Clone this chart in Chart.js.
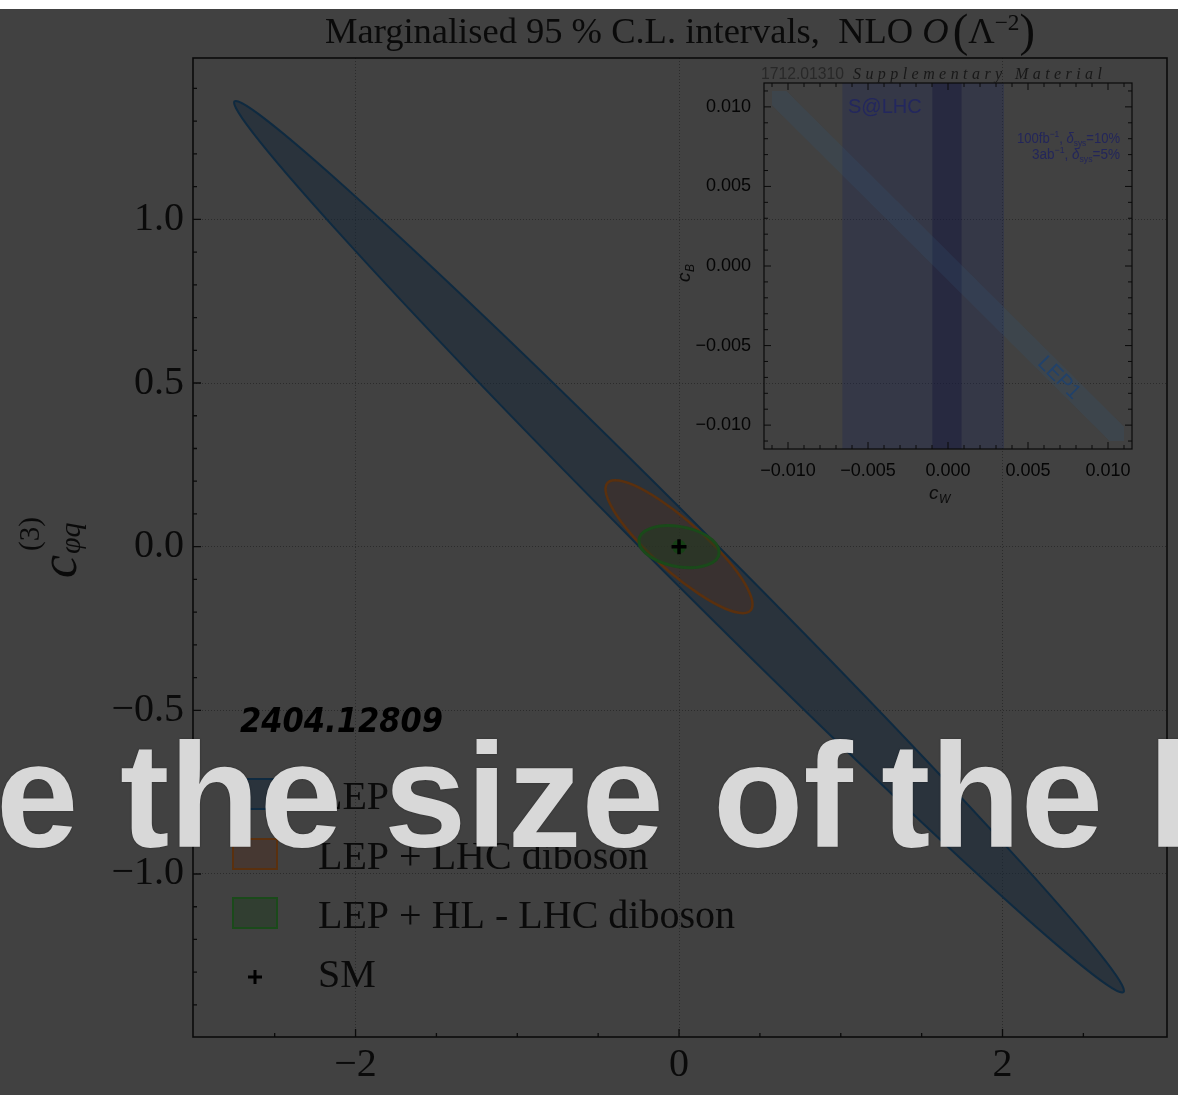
<!DOCTYPE html>
<html>
<head>
<meta charset="utf-8">
<script src="https://cdn.jsdelivr.net/npm/chart.js@4.4.1/dist/chart.umd.min.js"></script>
<style>
  html, body { margin: 0; padding: 0; background: #414141; }
  body { width: 1178px; height: 1095px; position: relative; overflow: hidden; }
  #topstrip { position: absolute; left: 0; top: 0; width: 1178px; height: 9px; background: #ffffff; }
  canvas { position: absolute; left: 0; top: 0; }
  #caption { position: absolute; left: 0; top: 721px; width: 1178px; height: 170px; }
  #caption span {
    position: absolute; top: 0;
    font: bold 148px "Liberation Sans", Arial, sans-serif;
    line-height: 150px; color: #d8d8d8; white-space: nowrap;
    text-shadow: 0 0 2px rgba(0,0,0,0.35);
  }
</style>
</head>
<body>
<div id="topstrip"></div>
<canvas id="main" width="1178" height="1095"></canvas>
<canvas id="inset" width="1178" height="1095"></canvas>
<div id="caption">
  <span style="left:-4px">e</span>
  <span style="left:120px">the</span>
  <span style="left:384px">size</span>
  <span style="left:713px">of</span>
  <span style="left:881px">the</span>
  <span style="left:1148px">l</span>
</div>

<script>
// ---------- main panel: 95% C.L. regions ----------
const regionLabels = ['LEP', 'LEP + LHC diboson', 'LEP + HL - LHC diboson'];
const regionCentreX = [0, 0, 0];
const regionCentreY = [0, 0, 0];
// conjugate semi-axes of each ellipse, in data units
const regionAxisA = [[2.74, -1.362], [0.395, -0.203], [0.248, -0.017]];
const regionAxisB = [[0.245, 0], [0.225, 0], [0, 0.062]];
const regionFill = ['rgba(19,37,55,0.5)', 'rgba(78,46,30,0.42)', 'rgba(30,60,30,0.45)'];
const regionEdge = ['#0f2a40', '#5a300e', '#1a4a1a'];
const regionEdgeWidth = [2, 2.5, 3];
const smPoint = [{ x: 0, y: 0 }];

const xTickValues = [-2, 0, 2];
const xTickText = ['−2', '0', '2'];
const xMinorTicks = [-2.5, -1.5, -1, -0.5, 0.5, 1, 1.5, 2.5];
const yTickValues = [-1, -0.5, 0, 0.5, 1];
const yTickText = ['−1.0', '−0.5', '0.0', '0.5', '1.0'];
const yMinorTicks = [-1.4, -1.3, -1.2, -1.1, -0.9, -0.8, -0.7, -0.6, -0.4, -0.3, -0.2, -0.1,
                     0.1, 0.2, 0.3, 0.4, 0.6, 0.7, 0.8, 0.9, 1.1, 1.2, 1.3, 1.4];

// ---------- inset: c_W vs c_B ----------
const insetTickValues = [-0.01, -0.005, 0, 0.005, 0.01];
const insetTickText = ['−0.010', '−0.005', '0.000', '0.005', '0.010'];
const insetMinorTicks = [-0.011, -0.009, -0.008, -0.007, -0.006, -0.004, -0.003, -0.002, -0.001,
                         0.001, 0.002, 0.003, 0.004, 0.006, 0.007, 0.008, 0.009, 0.011];
const insetLimit = 0.0115;
const sLHCWide = [-0.0066, 0.0035];     // 100 fb^-1, 10% syst.
const sLHCNarrow = [-0.00098, 0.00085]; // 3 ab^-1, 5% syst.
const lep1HalfWidth = 0.0009;           // |c_W + c_B| band
const lep1Extent = 0.011;

const SERIF = '"Liberation Serif", "DejaVu Serif", serif';
const SANS = '"Liberation Sans", Arial, sans-serif';

function drawRuns(ctx, runs, x0, baseline, targetWidth, align) {
  let total = 0;
  runs.forEach(r => { ctx.font = r.font; r.w = ctx.measureText(r.text).width; total += r.w + (r.gap || 0); });
  const k = targetWidth ? targetWidth / total : 1;
  let start = x0;
  if (align === 'right') start = x0 - total * k;
  ctx.save();
  ctx.translate(start, baseline);
  ctx.scale(k, 1);
  ctx.textAlign = 'left';
  ctx.textBaseline = 'alphabetic';
  let x = 0;
  runs.forEach(r => { ctx.font = r.font; ctx.fillText(r.text, x, r.dy || 0); x += r.w + (r.gap || 0); });
  ctx.restore();
}

// letter-spaced text spread over a given width
function drawSpaced(ctx, text, x0, baseline, width) {
  const chars = Array.from(text);
  const widths = chars.map(c => ctx.measureText(c).width);
  const natural = widths.reduce((s, w) => s + w, 0);
  const gap = (width - natural) / (chars.length - 1);
  let x = x0;
  chars.forEach((c, i) => { ctx.fillText(c, x, baseline); x += widths[i] + gap; });
}

function ellipsePath(ctx, xs, ys, cx, cy, a, b) {
  const px = xs.getPixelForValue(cx), py = ys.getPixelForValue(cy);
  const ax = xs.getPixelForValue(cx + a[0]) - px, ay = ys.getPixelForValue(cy + a[1]) - py;
  const bx = xs.getPixelForValue(cx + b[0]) - px, by = ys.getPixelForValue(cy + b[1]) - py;
  ctx.save();
  ctx.transform(ax, ay, bx, by, px, py);
  ctx.beginPath();
  ctx.arc(0, 0, 1, 0, Math.PI * 2);
  ctx.closePath();
  ctx.restore();
}

function drawPlus(ctx, x, y, half, width) {
  ctx.save();
  ctx.strokeStyle = '#000';
  ctx.lineWidth = width;
  ctx.beginPath();
  ctx.moveTo(x - half, y); ctx.lineTo(x + half, y);
  ctx.moveTo(x, y - half); ctx.lineTo(x, y + half);
  ctx.stroke();
  ctx.restore();
}

const mainDecor = {
  id: 'mainDecor',
  beforeDatasetsDraw(chart) {
    const ctx = chart.ctx, xs = chart.scales.x, ys = chart.scales.y, area = chart.chartArea;
    ctx.save();
    ctx.beginPath();
    ctx.rect(area.left, area.top, area.right - area.left, area.bottom - area.top);
    ctx.clip();
    for (let i = 0; i < regionLabels.length; i++) {
      ellipsePath(ctx, xs, ys, regionCentreX[i], regionCentreY[i], regionAxisA[i], regionAxisB[i]);
      ctx.fillStyle = regionFill[i];
      ctx.fill();
      ctx.strokeStyle = regionEdge[i];
      ctx.lineWidth = regionEdgeWidth[i];
      ctx.stroke();
    }
    ctx.restore();
  },
  afterDraw(chart) {
    const ctx = chart.ctx, xs = chart.scales.x, ys = chart.scales.y, area = chart.chartArea;
    ctx.save();
    // inward ticks
    ctx.strokeStyle = '#0a0a0a';
    ctx.lineWidth = 1.3;
    ctx.beginPath();
    xTickValues.forEach(v => { const p = xs.getPixelForValue(v); ctx.moveTo(p, area.bottom); ctx.lineTo(p, area.bottom - 8); });
    xMinorTicks.forEach(v => { const p = xs.getPixelForValue(v); ctx.moveTo(p, area.bottom); ctx.lineTo(p, area.bottom - 4); });
    yTickValues.forEach(v => { const p = ys.getPixelForValue(v); ctx.moveTo(area.left, p); ctx.lineTo(area.left + 8, p); });
    yMinorTicks.forEach(v => { const p = ys.getPixelForValue(v); ctx.moveTo(area.left, p); ctx.lineTo(area.left + 4, p); });
    ctx.stroke();
    // frame
    ctx.lineWidth = 1.6;
    ctx.strokeRect(area.left, area.top, area.right - area.left, area.bottom - area.top);

    ctx.fillStyle = '#0a0a0a';
    // title
    drawRuns(ctx, [
      { text: 'Marginalised 95 % C.L. intervals,  NLO ', font: '36px ' + SERIF },
      { text: 'O', font: 'italic 36px ' + SERIF, gap: 4 },
      { text: '(', font: '46px ' + SERIF, dy: 3 },
      { text: 'Λ', font: '36px ' + SERIF },
      { text: '−2', font: '23px ' + SERIF, dy: -13 },
      { text: ')', font: '46px ' + SERIF, dy: 3 }
    ], 325, 43, 710);

    // y-axis title
    ctx.save();
    ctx.translate(76, 578);
    ctx.rotate(-Math.PI / 2);
    ctx.font = 'italic 52px ' + SERIF;
    ctx.fillText('c', 0, 0);
    ctx.font = 'italic 30px ' + SERIF;
    ctx.fillText('φq', 24, 4);
    ctx.font = '29px ' + SERIF;
    ctx.fillText('(3)', 27, -37);
    ctx.restore();

    // paper reference
    ctx.fillStyle = '#000';
    drawRuns(ctx, [{ text: '2404.12809', font: 'bold italic 34px "DejaVu Sans", ' + SANS }], 240, 732, 203);

    // legend
    const baselines = [809, 869, 928];
    for (let i = 0; i < regionLabels.length; i++) {
      const b = baselines[i];
      ctx.fillStyle = regionFill[i];
      ctx.fillRect(233, b - 30, 44, 30);
      ctx.strokeStyle = regionEdge[i];
      ctx.lineWidth = 2;
      ctx.strokeRect(233, b - 30, 44, 30);
      ctx.fillStyle = '#0a0a0a';
      ctx.font = '40px ' + SERIF;
      ctx.textAlign = 'left';
      ctx.textBaseline = 'alphabetic';
      ctx.fillText(regionLabels[i], 318, b);
    }
    drawPlus(ctx, 255, 977, 7, 3);
    ctx.font = '40px ' + SERIF;
    ctx.fillText('SM', 318, 987);
    ctx.restore();
  }
};

new Chart(document.getElementById('main'), {
  type: 'line',
  data: {
    datasets: [
      { label: 'SM', data: smPoint, showLine: false, pointStyle: 'cross', pointRadius: 7.5,
        pointBorderColor: '#000', pointBorderWidth: 3.5, order: 0 },
      { label: 'SM marker', data: smPoint, showLine: false, pointStyle: 'circle', pointRadius: 7,
        pointBackgroundColor: 'rgba(20,68,20,0.85)', pointBorderWidth: 0, order: 1 }
    ]
  },
  options: {
    responsive: false, animation: false, events: [],
    layout: { padding: { left: 0, top: 58, right: 8, bottom: 0 } },
    plugins: { legend: { display: false }, tooltip: { enabled: false }, title: { display: false } },
    scales: {
      x: {
        type: 'linear', min: -3.005, max: 3.017,
        afterBuildTicks: s => { s.ticks = xTickValues.map(v => ({ value: v })); },
        afterFit: s => { s.height = 58; },
        ticks: { callback: (v, i) => xTickText[i], font: { family: 'Liberation Serif', size: 40 },
                 color: '#0a0a0a', padding: 4, maxRotation: 0, autoSkip: false },
        grid: { color: 'rgba(28,28,28,0.6)', lineWidth: 1, drawTicks: false },
        border: { display: false, dash: [1, 2] }
      },
      y: {
        type: 'linear', min: -1.498, max: 1.493,
        afterBuildTicks: s => { s.ticks = yTickValues.map(v => ({ value: v })); },
        afterFit: s => { s.width = 193; },
        ticks: { callback: (v, i) => yTickText[i], font: { family: 'Liberation Serif', size: 40 },
                 color: '#0a0a0a', padding: 9, autoSkip: false },
        grid: { color: 'rgba(28,28,28,0.6)', lineWidth: 1, drawTicks: false },
        border: { display: false, dash: [1, 2] }
      }
    }
  },
  plugins: [mainDecor]
});

// ---------- inset ----------
const L = insetLimit;
const wideBand = [
  { x: sLHCWide[0], y: -L }, { x: sLHCWide[1], y: -L }, { x: sLHCWide[1], y: L }, { x: sLHCWide[0], y: L }
];
const narrowBand = [
  { x: sLHCNarrow[0], y: -L }, { x: sLHCNarrow[1], y: -L }, { x: sLHCNarrow[1], y: L }, { x: sLHCNarrow[0], y: L }
];
const e = lep1Extent, h = lep1HalfWidth;
const lep1Band = [
  { x: -e, y: e }, { x: -e + h, y: e }, { x: e, y: -e + h },
  { x: e, y: -e }, { x: e - h, y: -e }, { x: -e, y: e - h }
];

const insetDecor = {
  id: 'insetDecor',
  afterDraw(chart) {
    const ctx = chart.ctx, xs = chart.scales.x, ys = chart.scales.y, a = chart.chartArea;
    ctx.save();
    ctx.strokeStyle = '#0a0a0a';
    ctx.lineWidth = 1;
    ctx.beginPath();
    const tick = (v, len) => {
      const px = xs.getPixelForValue(v), py = ys.getPixelForValue(v);
      ctx.moveTo(px, a.bottom); ctx.lineTo(px, a.bottom - len);
      ctx.moveTo(px, a.top); ctx.lineTo(px, a.top + len);
      ctx.moveTo(a.left, py); ctx.lineTo(a.left + len, py);
      ctx.moveTo(a.right, py); ctx.lineTo(a.right - len, py);
    };
    insetTickValues.forEach(v => tick(v, 7));
    insetMinorTicks.forEach(v => tick(v, 4));
    ctx.stroke();
    ctx.lineWidth = 1.2;
    ctx.strokeRect(a.left, a.top, a.right - a.left, a.bottom - a.top);

    // header line
    ctx.textAlign = 'left';
    ctx.textBaseline = 'alphabetic';
    ctx.fillStyle = '#282828';
    drawRuns(ctx, [{ text: '1712.01310', font: '17px ' + SANS }], 761, 79, 83);
    ctx.fillStyle = '#181818';
    ctx.font = 'italic 16px ' + SERIF;
    drawSpaced(ctx, 'Supplementary Material', 853, 79, 249);

    // band annotations
    ctx.fillStyle = '#23275e';
    ctx.font = '20px ' + SANS;
    ctx.fillText('S@LHC', 848, 113);
    ctx.fillStyle = '#23265a';
    drawRuns(ctx, [
      { text: '100fb', font: '14px ' + SANS },
      { text: '−1', font: '9px ' + SANS, dy: -6 },
      { text: ', ', font: '14px ' + SANS },
      { text: 'δ', font: 'italic 14px ' + SANS },
      { text: 'sys', font: '9px ' + SANS, dy: 3 },
      { text: '=10%', font: '14px ' + SANS }
    ], 1120, 143, 103, 'right');
    drawRuns(ctx, [
      { text: '3ab', font: '14px ' + SANS },
      { text: '−1', font: '9px ' + SANS, dy: -6 },
      { text: ', ', font: '14px ' + SANS },
      { text: 'δ', font: 'italic 14px ' + SANS },
      { text: 'sys', font: '9px ' + SANS, dy: 3 },
      { text: '=5%', font: '14px ' + SANS }
    ], 1120, 159, 88, 'right');

    ctx.save();
    ctx.translate(1059, 378);
    ctx.rotate(Math.PI / 4);
    ctx.fillStyle = '#22426a';
    ctx.font = '21px ' + SANS;
    ctx.textAlign = 'center';
    ctx.textBaseline = 'middle';
    ctx.fillText('LEP1', 0, 0);
    ctx.restore();

    // axis titles
    ctx.fillStyle = '#0a0a0a';
    ctx.font = 'italic 19px ' + SANS;
    ctx.fillText('c', 929, 499);
    ctx.font = 'italic 12px ' + SANS;
    ctx.fillText('W', 939, 503);
    ctx.save();
    ctx.translate(690, 282);
    ctx.rotate(-Math.PI / 2);
    ctx.font = 'italic 19px ' + SANS;
    ctx.fillText('c', 0, 0);
    ctx.font = 'italic 12px ' + SANS;
    ctx.fillText('B', 10, 4);
    ctx.restore();
    ctx.restore();
  }
};

const bandStyle = { showLine: true, fill: 'shape', borderWidth: 0, borderColor: 'rgba(0,0,0,0)',
                    pointRadius: 0, tension: 0 };
new Chart(document.getElementById('inset'), {
  type: 'line',
  data: {
    datasets: [
      Object.assign({ label: 'LEP1', data: lep1Band, backgroundColor: 'rgba(50,85,120,0.22)', order: 1 }, bandStyle),
      Object.assign({ label: 'S@LHC 3ab-1', data: narrowBand, backgroundColor: 'rgba(20,20,55,0.4)', order: 2 }, bandStyle),
      Object.assign({ label: 'S@LHC 100fb-1', data: wideBand, backgroundColor: 'rgba(25,35,85,0.3)', order: 3 }, bandStyle)
    ]
  },
  options: {
    responsive: false, animation: false, events: [],
    layout: { padding: { left: 684, top: 83, right: 46, bottom: 606 } },
    plugins: { legend: { display: false }, tooltip: { enabled: false } },
    scales: {
      x: {
        type: 'linear', min: -L, max: L,
        afterBuildTicks: s => { s.ticks = insetTickValues.map(v => ({ value: v })); },
        afterFit: s => { s.height = 40; },
        ticks: { callback: (v, i) => insetTickText[i], font: { family: 'Liberation Sans', size: 18 },
                 color: '#050505', padding: 3, maxRotation: 0, autoSkip: false },
        grid: { display: false }, border: { display: false }
      },
      y: {
        type: 'linear', min: -L, max: L,
        afterBuildTicks: s => { s.ticks = insetTickValues.map(v => ({ value: v })); },
        afterFit: s => { s.width = 80; },
        ticks: { callback: (v, i) => insetTickText[i], font: { family: 'Liberation Sans', size: 18 },
                 color: '#050505', padding: 5, autoSkip: false },
        grid: { display: false }, border: { display: false }
      }
    }
  },
  plugins: [insetDecor]
});
</script>
</body>
</html>
